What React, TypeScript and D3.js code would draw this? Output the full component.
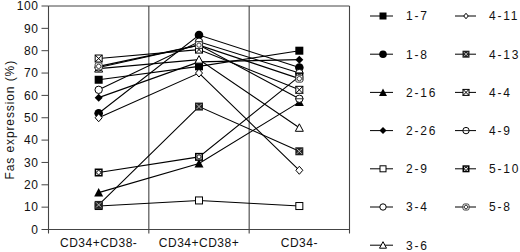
import React from "react";
import * as d3 from "d3";

const categories = ["CD34+CD38-", "CD34+CD38+", "CD34-"];
const seriesNames = ["1-7", "1-8", "2-16", "2-26", "2-9", "3-4", "3-6", "4-11", "4-13", "4-4", "4-9", "5-10", "5-8"];
const s1_7 = [67, 73, 80];
const s1_8 = [52, 87, 72.5];
const s2_16 = [16.5, 29.5, 57];
const s2_26 = [59, 75, 76];
const s2_9 = [10.5, 13, 10.5];
const s3_4 = [62.5, 84, 70];
const s3_6 = [72, 76, 45.5];
const s4_11 = [50, 70, 26.5];
const s4_13 = [11, 55, 35];
const s4_4 = [76.5, 80.5, 62.5];
const s4_9 = [72.5, 82.5, 58.5];
const s5_10 = [25.5, 32.5, 68.5];
const s5_8 = [73, 82.5, 67.5];
const yTicks = [0, 10, 20, 30, 40, 50, 60, 70, 80, 90, 100];

const seriesValues = [s1_7, s1_8, s2_16, s2_26, s2_9, s3_4, s3_6, s4_11, s4_13, s4_4, s4_9, s5_10, s5_8];
const markerTypes = ["fsq", "fci", "ftr", "fdi", "osq", "oci", "otr", "odi", "xsqd", "xsq", "oci2", "sqci", "cisq"];

const FONT = "'Liberation Sans', Arial, sans-serif";

function Marker({ type, x, y, s }: { type: string; x: number; y: number; s: number }) {
  const h = s / 2;
  const sw = 1;
  switch (type) {
    case "fsq":
      return <rect x={x - h} y={y - h} width={s} height={s} fill="#000" />;
    case "fci":
      return <circle cx={x} cy={y} r={h + 0.3} fill="#000" />;
    case "ftr":
      return <path d={`M${x},${y - h - 0.5}L${x + h + 0.5},${y + h}L${x - h - 0.5},${y + h}Z`} fill="#000" />;
    case "fdi":
      return <path d={`M${x},${y - h}L${x + h},${y}L${x},${y + h}L${x - h},${y}Z`} fill="#000" />;
    case "osq":
      return <rect x={x - h + 0.5} y={y - h + 0.5} width={s - 1} height={s - 1} fill="#fff" stroke="#000" strokeWidth={sw} />;
    case "oci":
      return <circle cx={x} cy={y} r={h - 0.3} fill="#fff" stroke="#000" strokeWidth={sw} />;
    case "oci2":
      return (
        <g>
          <circle cx={x} cy={y} r={h - 0.3} fill="#fff" stroke="#000" strokeWidth={sw} />
          <line x1={x - h} x2={x + h} y1={y} y2={y} stroke="#000" strokeWidth={0.8} />
        </g>
      );
    case "otr":
      return <path d={`M${x},${y - h}L${x + h},${y + h - 0.5}L${x - h},${y + h - 0.5}Z`} fill="#fff" stroke="#000" strokeWidth={sw} />;
    case "odi":
      return <path d={`M${x},${y - h}L${x + h - 0.5},${y}L${x},${y + h}L${x - h + 0.5},${y}Z`} fill="#fff" stroke="#000" strokeWidth={sw} />;
    case "xsqd":
      return (
        <g>
          <rect x={x - h} y={y - h} width={s} height={s} fill="#222" />
          <path d={`M${x - h + 1.5},${y - h + 1.5}L${x + h - 1.5},${y + h - 1.5}M${x + h - 1.5},${y - h + 1.5}L${x - h + 1.5},${y + h - 1.5}`} stroke="#bbb" strokeWidth={1} />
        </g>
      );
    case "xsq":
      return (
        <g>
          <rect x={x - h + 0.5} y={y - h + 0.5} width={s - 1} height={s - 1} fill="#fff" stroke="#000" strokeWidth={sw} />
          <path d={`M${x - h + 0.5},${y - h + 0.5}L${x + h - 0.5},${y + h - 0.5}M${x + h - 0.5},${y - h + 0.5}L${x - h + 0.5},${y + h - 0.5}`} stroke="#000" strokeWidth={1} />
        </g>
      );
    case "sqci":
      return (
        <g>
          <rect x={x - h + 0.75} y={y - h + 0.75} width={s - 1.5} height={s - 1.5} fill="#fff" stroke="#000" strokeWidth={1.5} />
          <circle cx={x} cy={y} r={h - 2} fill="none" stroke="#000" strokeWidth={0.9} />
        </g>
      );
    case "cisq":
      return (
        <g>
          <rect x={x - h + 0.5} y={y - h + 0.5} width={s - 1} height={s - 1} rx={1.5} fill="#fff" stroke="#333" strokeWidth={1} />
          <circle cx={x} cy={y} r={h - 1.8} fill="none" stroke="#333" strokeWidth={0.9} />
        </g>
      );
    default:
      return null;
  }
}

export default function App() {
  const left = 48.5;
  const right = 349.5;
  const top = 6;
  const bottom = 229.5;
  const x = d3.scaleBand<string>().domain(categories).range([left, right]);
  const y = d3.scaleLinear().domain([0, 100]).range([bottom, top]);
  const cx = (c: string) => (x(c) as number) + x.bandwidth() / 2;
  const line = d3
    .line<number>()
    .x((_, i) => cx(categories[i]))
    .y((v) => y(v));
  const frame = "#444";
  const boundaries = [...categories.map((c) => x(c) as number), right];

  const legendRowY = (i: number) => 16 + i * 38.2;

  return (
    <svg width={520} height={252} style={{ position: "absolute", left: 0, top: 0, background: "#fff" }}>
      <rect x={0} y={0} width={520} height={252} fill="#fff" />
      {/* frame */}
      <line x1={left} x2={right} y1={top} y2={top} stroke={frame} strokeWidth={1} />
      <line x1={left} x2={right} y1={bottom} y2={bottom} stroke={frame} strokeWidth={1.2} />
      {boundaries.map((b, i) => (
        <line key={i} x1={b} x2={b} y1={top} y2={bottom + 4} stroke={frame} strokeWidth={1.1} />
      ))}
      {/* y ticks */}
      {yTicks.map((t) => (
        <g key={t}>
          <line x1={left - 7} x2={left} y1={y(t)} y2={y(t)} stroke={frame} strokeWidth={1} />
          <text x={left - 10} y={y(t)} dy="0.35em" textAnchor="end" fontFamily={FONT} fontSize={12} letterSpacing={0.6} fill="#111">
            {t}
          </text>
        </g>
      ))}
      <text
        transform={`translate(14,${(top + bottom) / 2 + 2}) rotate(-90)`}
        textAnchor="middle"
        fontFamily={FONT}
        fontSize={12}
        letterSpacing={0.9}
        fill="#111"
      >
        Fas expression (%)
      </text>
      {categories.map((c) => (
        <text key={c} x={cx(c)} y={247} textAnchor="middle" fontFamily={FONT} fontSize={12} letterSpacing={0.5} fill="#111">
          {c}
        </text>
      ))}
      {/* lines */}
      {seriesValues.map((vals, si) => (
        <path key={"l" + si} d={line(vals) || ""} fill="none" stroke="#000" strokeWidth={1.1} />
      ))}
      {/* markers */}
      {seriesValues.map((vals, si) => (
        <g key={"m" + si}>
          {vals.map((v, i) => (
            <Marker key={i} type={markerTypes[si]} x={cx(categories[i])} y={y(v)} s={8} />
          ))}
        </g>
      ))}
      {/* legend */}
      {seriesNames.map((name, i) => {
        const col = i < 7 ? 0 : 1;
        const row = i < 7 ? i : i - 7;
        const ly = legendRowY(row);
        const x0 = col === 0 ? 370 : 455;
        const x1 = col === 0 ? 393 : 476;
        const mx = col === 0 ? 383 : 466;
        const tx = col === 0 ? 406 : 489;
        return (
          <g key={name}>
            <line x1={x0} x2={x1} y1={ly} y2={ly} stroke="#000" strokeWidth={1} />
            <Marker type={markerTypes[i]} x={mx} y={ly} s={i === 7 ? 5.5 : 7} />
            <text x={tx} y={ly} dy="0.36em" fontFamily={FONT} fontSize={12} letterSpacing={1.8} fill="#111">
              {name}
            </text>
          </g>
        );
      })}
    </svg>
  );
}
